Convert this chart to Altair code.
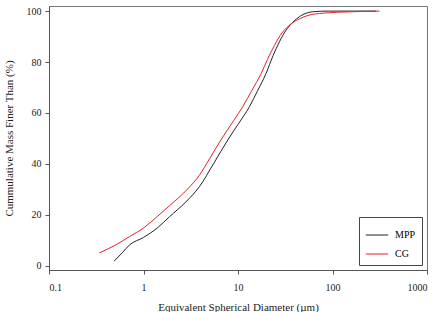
import altair as alt
import pandas as pd

mpp_x = [0.49, 0.6, 0.71, 1.0, 1.4, 1.88, 2.8, 3.9, 5.5, 7.8, 10.0, 13.2, 16.0, 19.8, 23.5, 27.5, 32, 38, 45, 52.7, 65, 90, 150, 290]
mpp_y = [1.8, 5.2, 8.1, 11.1, 14.8, 19.2, 25.0, 31.0, 40.0, 49.4, 55.5, 62.4, 68.5, 75.5, 82.5, 88.0, 92.3, 95.6, 97.9, 99.2, 99.8, 100, 100, 100]
cg_x = [0.34, 0.5, 0.71, 1.0, 1.4, 1.88, 3.0, 3.9, 5.0, 6.6, 9.0, 11.2, 14.0, 17.6, 20.5, 24.3, 28, 33, 38, 45, 55, 80, 150, 314]
cg_y = [5.0, 8.0, 11.4, 14.8, 19.3, 23.5, 30.5, 35.5, 42.0, 49.4, 57.0, 62.4, 68.8, 75.5, 81.0, 86.5, 90.5, 93.6, 95.5, 97.0, 98.3, 99.2, 99.7, 100]
series = ["MPP", "CG"]
x_ticks = [0.1, 1, 10, 100, 1000]
y_ticks = [0, 20, 40, 60, 80, 100]

rows = []
for x, y in zip(mpp_x, mpp_y):
    rows.append({"d": x, "p": y, "s": "MPP"})
for x, y in zip(cg_x, cg_y):
    rows.append({"d": x, "p": y, "s": "CG"})
df = pd.DataFrame(rows)

font = "Liberation Serif"

chart = alt.Chart(df).mark_line(strokeWidth=1, interpolate="monotone").encode(
    x=alt.X("d:Q", scale=alt.Scale(type="log", domain=[0.1, 1000], nice=False),
            axis=alt.Axis(values=x_ticks, title="Equivalent Spherical Diameter (µm)",
                          labelExpr="datum.value < 1 ? '0.1' : format(datum.value, 'd')",
                          grid=False, tickSize=4, labelPadding=8, titlePadding=9)),
    y=alt.Y("p:Q", scale=alt.Scale(domain=[-1.7, 102], nice=False, zero=False),
            axis=alt.Axis(values=y_ticks, title="Cummulative Mass Finer Than (%)",
                          grid=False, tickSize=4, labelPadding=4, titlePadding=12)),
    color=alt.Color("s:N", scale=alt.Scale(domain=series, range=["#222222", "#e8202a"]),
                    legend=alt.Legend(title=None, orient="bottom-right", offset=5,
                                      symbolType="stroke", symbolSize=500, symbolStrokeWidth=1,
                                      strokeColor="#444444", padding=6, labelFont=font,
                                      labelFontSize=10, rowPadding=2, labelOffset=6)),
    detail="s:N",
    order=alt.Order("d:Q"),
).properties(
    width=378, height=264,
    padding={"left": 49, "top": 6, "right": 12, "bottom": 42},
    autosize=alt.AutoSizeParams(type="none"),
).configure_axis(
    labelFont=font, titleFont=font, labelFontSize=10, titleFontSize=11,
    titleFontWeight="normal", domainColor="#555555", tickColor="#555555",
    labelColor="#222222", titleColor="#222222",
).configure_view(stroke="#777777", strokeWidth=1)

chart.save("out.html", embed_options={"renderer": "svg", "actions": False})
